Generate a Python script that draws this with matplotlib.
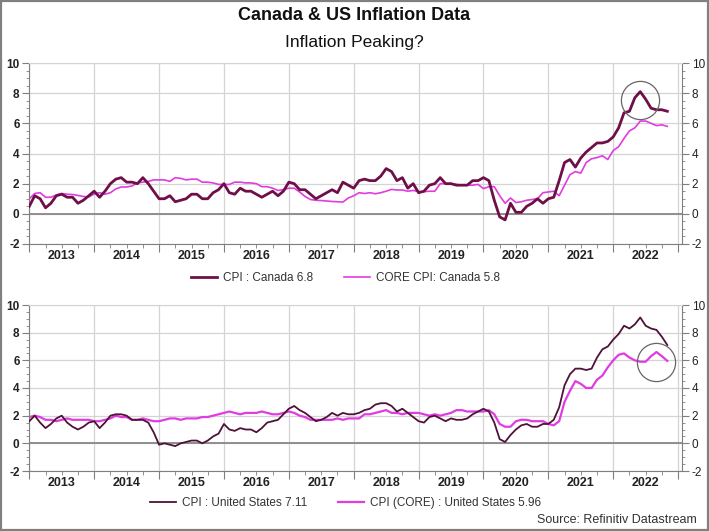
import numpy as np
import matplotlib
matplotlib.use("Agg")
import matplotlib.pyplot as plt
from matplotlib.patches import Rectangle
from matplotlib.ticker import MultipleLocator
from matplotlib.transforms import blended_transform_factory

plt.rcParams["font.family"] = ["Liberation Sans", "DejaVu Sans"]
plt.rcParams["axes.unicode_minus"] = False

# monthly y/y %, Jan 2013 .. Nov 2022
ca_cpi = [0.5, 1.2, 1.0, 0.4, 0.7, 1.2, 1.3, 1.1, 1.1, 0.7, 0.9, 1.2,
          1.5, 1.1, 1.5, 2.0, 2.3, 2.4, 2.1, 2.1, 2.0, 2.4, 2.0, 1.5,
          1.0, 1.0, 1.2, 0.8, 0.9, 1.0, 1.3, 1.3, 1.0, 1.0, 1.4, 1.6,
          2.0, 1.4, 1.3, 1.7, 1.5, 1.5, 1.3, 1.1, 1.3, 1.5, 1.2, 1.5,
          2.1, 2.0, 1.6, 1.6, 1.3, 1.0, 1.2, 1.4, 1.6, 1.4, 2.1, 1.9,
          1.7, 2.2, 2.3, 2.2, 2.2, 2.5, 3.0, 2.8, 2.2, 2.4, 1.7, 2.0,
          1.4, 1.5, 1.9, 2.0, 2.4, 2.0, 2.0, 1.9, 1.9, 1.9, 2.2, 2.2,
          2.4, 2.2, 0.9, -0.2, -0.4, 0.7, 0.1, 0.1, 0.5, 0.7, 1.0, 0.7,
          1.0, 1.1, 2.2, 3.4, 3.6, 3.1, 3.7, 4.1, 4.4, 4.7, 4.7, 4.8,
          5.1, 5.7, 6.7, 6.8, 7.7, 8.1, 7.6, 7.0, 6.9, 6.9, 6.8]
ca_core = [1.0, 1.35, 1.4, 1.1, 1.1, 1.25, 1.35, 1.3, 1.28, 1.22, 1.15, 1.12,
           1.32, 1.4, 1.3, 1.4, 1.65, 1.78, 1.78, 1.85, 2.05, 2.1, 2.15, 2.25,
           2.25, 2.25, 2.15, 2.4, 2.35, 2.25, 2.3, 2.3, 2.1, 2.1, 2.05, 1.95,
           1.95, 1.95, 2.1, 2.1, 2.05, 2.05, 2.0, 1.8, 1.8, 1.7, 1.55, 1.6,
           1.7, 1.7, 1.45, 1.15, 0.95, 0.9, 0.88, 0.85, 0.82, 0.8, 0.78, 1.05,
           1.2, 1.4, 1.35, 1.4, 1.33, 1.4, 1.5, 1.62, 1.58, 1.58, 1.5, 1.55,
           1.47, 1.47, 1.5, 1.5, 2.0, 2.0, 2.0, 1.95, 1.9, 1.9, 1.9, 1.95,
           1.67, 1.8, 1.8, 1.2, 0.7, 1.05, 0.75, 0.8, 0.9, 0.95, 1.0, 1.4,
           1.45, 1.5, 1.2, 1.9, 2.6, 2.8, 2.7, 3.4, 3.65, 3.73, 3.85, 3.6,
           4.2, 4.45, 5.0, 5.5, 5.7, 6.15, 6.15, 6.0, 5.85, 5.9, 5.8]
us_cpi = [1.6, 2.0, 1.5, 1.1, 1.4, 1.8, 2.0, 1.5, 1.2, 1.0, 1.2, 1.5,
          1.6, 1.1, 1.5, 2.0, 2.1, 2.1, 2.0, 1.7, 1.7, 1.7, 1.5, 0.8,
          -0.1, 0.0, -0.1, -0.2, 0.0, 0.1, 0.2, 0.2, 0.0, 0.2, 0.5, 0.7,
          1.4, 1.0, 0.9, 1.1, 1.0, 1.0, 0.8, 1.1, 1.5, 1.6, 1.7, 2.1,
          2.5, 2.7, 2.4, 2.2, 1.9, 1.6, 1.7, 1.9, 2.2, 2.0, 2.2, 2.1,
          2.1, 2.2, 2.4, 2.5, 2.8, 2.9, 2.9, 2.7, 2.3, 2.5, 2.2, 1.9,
          1.6, 1.5, 1.9, 2.0, 1.8, 1.6, 1.8, 1.7, 1.7, 1.8, 2.1, 2.3,
          2.5, 2.3, 1.5, 0.3, 0.1, 0.6, 1.0, 1.3, 1.4, 1.2, 1.2, 1.4,
          1.4, 1.7, 2.6, 4.2, 5.0, 5.4, 5.4, 5.3, 5.4, 6.2, 6.8, 7.0,
          7.5, 7.9, 8.5, 8.3, 8.6, 9.1, 8.5, 8.3, 8.2, 7.7, 7.11]
us_core = [1.9, 2.0, 1.9, 1.7, 1.7, 1.6, 1.7, 1.8, 1.7, 1.7, 1.7, 1.7,
           1.6, 1.6, 1.7, 1.8, 2.0, 1.9, 1.9, 1.7, 1.7, 1.8, 1.7, 1.6,
           1.6, 1.7, 1.8, 1.8, 1.7, 1.8, 1.8, 1.8, 1.9, 1.9, 2.0, 2.1,
           2.2, 2.3, 2.2, 2.1, 2.2, 2.2, 2.2, 2.3, 2.2, 2.1, 2.1, 2.2,
           2.3, 2.2, 2.0, 1.9, 1.7, 1.7, 1.7, 1.7, 1.7, 1.8, 1.7, 1.8,
           1.8, 1.8, 2.1, 2.1, 2.2, 2.3, 2.4, 2.2, 2.2, 2.1, 2.2, 2.2,
           2.2, 2.1, 2.0, 2.1, 2.0, 2.1, 2.2, 2.4, 2.4, 2.3, 2.3, 2.3,
           2.3, 2.4, 2.1, 1.4, 1.2, 1.2, 1.6, 1.7, 1.7, 1.6, 1.6, 1.6,
           1.4, 1.3, 1.6, 3.0, 3.8, 4.5, 4.3, 4.0, 4.0, 4.6, 4.9, 5.5,
           6.0, 6.4, 6.5, 6.2, 6.0, 5.9, 5.9, 6.3, 6.6, 6.3, 5.96]

years = list(range(2013, 2023))
t = 2013 + np.arange(len(ca_cpi)) / 12.0

DARK_CA = "#6e0f48"
DARK_US = "#4f1238"
MAG = "#e03ce0"
GRID = "#d4d4d4"
SPINE = "#7f7f7f"

fig = plt.figure(figsize=(7.09, 5.31), dpi=100)
fig.patches.append(Rectangle((0.002, 0.002), 0.996, 0.996, transform=fig.transFigure,
                             fill=False, ec="#808080", lw=1.6))

fig.text(0.5, 1 - 15 / 531, "Canada & US Inflation Data", ha="center", va="center",
         fontsize=13, fontweight="bold", color="#111")
fig.text(0.5, 1 - 42 / 531, "Inflation Peaking?", ha="center", va="center",
         fontsize=12.5, color="#111")

ax1 = fig.add_axes([29.3 / 709, 1 - 244 / 531, 652.7 / 709, 181 / 531])
ax2 = fig.add_axes([29.3 / 709, 1 - 471 / 531, 652.7 / 709, 166 / 531])


def style(ax):
    ax.set_xlim(2013.0, 2023.06)
    ax.set_ylim(-2, 10)
    ax.set_yticks(range(-2, 11, 2))
    ax.yaxis.set_minor_locator(MultipleLocator(0.5))
    ax.set_xticks(years + [2023])
    ax.set_xticklabels([])
    ax.xaxis.set_minor_locator(MultipleLocator(0.25))
    ax.tick_params(axis="x", which="major", length=6, color=SPINE, direction="out")
    ax.tick_params(axis="x", which="minor", length=3, color=SPINE, direction="out")
    ax.tick_params(axis="y", which="both", left=True, right=True, labelleft=True,
                   labelright=True, color=SPINE, labelsize=8.5, pad=2)
    ax.tick_params(axis="y", which="major", length=5)
    ax.tick_params(axis="y", which="minor", length=2.5)
    for tk in ax.yaxis.get_major_ticks():
        tk.label1.set_fontweight("bold")
        tk.label1.set_color("#222")
        tk.label2.set_color("#222")
    ax.grid(True, which="major", color=GRID, lw=0.9)
    ax.set_axisbelow(True)
    ax.axhline(0, color="#888888", lw=1.3, zorder=1.5)
    for s in ("left", "right", "bottom"):
        ax.spines[s].set_color(SPINE)
    ax.spines["top"].set_color(GRID)
    tr = blended_transform_factory(ax.transData, ax.transAxes)
    for y in years:
        ax.text(y + 0.5, -0.035, str(y), transform=tr, ha="center", va="top",
                fontsize=9, fontweight="bold", color="#222")


style(ax1)
style(ax2)

ax1.plot(t, ca_cpi, color=DARK_CA, lw=2.0, label="CPI : Canada 6.8", zorder=3)
ax1.plot(t, ca_core, color=MAG, lw=1.2, label="CORE CPI: Canada 5.8", zorder=2.5)
ax2.plot(t, us_cpi, color=DARK_US, lw=1.3, label="CPI : United States 7.11", zorder=3)
ax2.plot(t, us_core, color=MAG, lw=1.6, label="CPI (CORE) : United States 5.96", zorder=2.5)

# highlight circles
i_pk = int(np.argmax(ca_cpi))
ax1.plot(t[i_pk], ca_cpi[i_pk] - 0.55, marker="o", ms=27.5, mfc="none", mec="#666",
         mew=0.9, zorder=4)
i_c = len(us_core) - 3
ax2.plot(t[i_c], us_core[i_c] - 0.7, marker="o", ms=27.5, mfc="none", mec="#666",
         mew=0.9, zorder=4)

leg_kw = dict(ncol=2, frameon=False, fontsize=8.5, handlelength=2.2,
              columnspacing=2.6, handletextpad=0.5, labelcolor="#333")
ax1.legend(loc="center", bbox_to_anchor=(0.487, 1 - 278 / 531), bbox_transform=fig.transFigure, **leg_kw)
ax2.legend(loc="center", bbox_to_anchor=(0.487, 1 - 503 / 531), bbox_transform=fig.transFigure, **leg_kw)

fig.text(697 / 709, 1 - 520 / 531, "Source: Refinitiv Datastream", ha="right", va="center",
         fontsize=9, color="#333")

fig.savefig("out.png", dpi=100)
